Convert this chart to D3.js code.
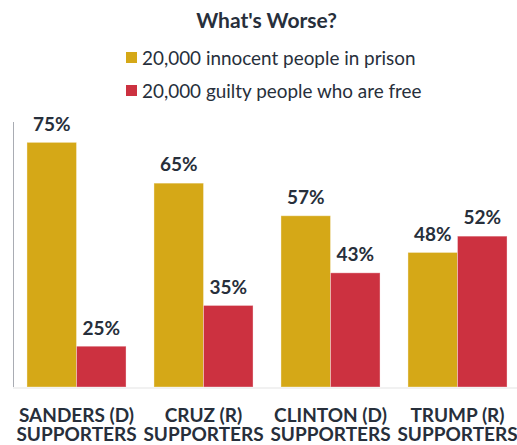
<!DOCTYPE html>
<html>
<head>
<meta charset="utf-8">
<script src="https://cdn.jsdelivr.net/npm/d3@7"></script>
<style>
  html, body { margin: 0; padding: 0; background: #fff; }
  svg { display: block; font-family: Lato, "Open Sans", sans-serif; }
</style>
</head>
<body>
<svg id="chart" width="517" height="445"></svg>
<script>
const title = "What's Worse?";
const categories = ["SANDERS (D)|SUPPORTERS", "CRUZ (R)|SUPPORTERS", "CLINTON (D)|SUPPORTERS", "TRUMP (R)|SUPPORTERS"];
const seriesNames = ["20,000 innocent people in prison", "20,000 guilty people who are free"];
const innocentInPrison = [75, 65, 57, 48];
const guiltyFree = [25, 35, 43, 52];
const colors = ["#D5A817", "#CC3140"];

const svg = d3.select("#chart");
const textColor = "#272f3b";

const x0 = d3.scaleBand().domain(categories).range([13, 521]).paddingInner(0.22).paddingOuter(0.11);
const x1 = d3.scaleBand().domain([0, 1]).range([0, x0.bandwidth()]);
const y = d3.scaleLinear().domain([15, 80]).range([387, 122]);

// title
svg.append("text").attr("x", 266.5).attr("y", 28.3).attr("text-anchor", "middle")
  .attr("font-weight", 700).attr("font-size", 21).attr("fill", textColor).text(title);

// legend
const legend = svg.append("g");
seriesNames.forEach((name, i) => {
  const g = legend.append("g").attr("transform", `translate(126, ${52 + i * 33})`);
  g.append("rect").attr("width", 11).attr("height", 11).attr("fill", colors[i]);
  g.append("text").attr("x", 16).attr("y", 13).attr("font-size", 18.9).attr("fill", textColor).text(name);
});

// baseline and axis
svg.append("line").attr("x1", 13).attr("x2", 517).attr("y1", y(15) + 1).attr("y2", y(15) + 1)
  .attr("stroke", "#ececec").attr("stroke-width", 1.5);
svg.append("line").attr("x1", 13.5).attr("x2", 13.5).attr("y1", y(80)).attr("y2", y(15))
  .attr("stroke", "#a9acb3").attr("stroke-width", 1);

const data = categories.map((c, i) => ({ cat: c, vals: [innocentInPrison[i], guiltyFree[i]] }));

const groups = svg.append("g").selectAll("g").data(data).join("g")
  .attr("transform", d => `translate(${x0(d.cat)},0)`);

groups.selectAll("rect").data(d => d.vals.map((v, i) => ({ v, i }))).join("rect")
  .attr("x", d => x1(d.i))
  .attr("y", d => y(d.v))
  .attr("width", x1.bandwidth())
  .attr("height", d => y(15) - y(d.v))
  .attr("fill", d => colors[d.i])
  .attr("stroke", "rgba(255,255,255,0.35)")
  .attr("stroke-width", 1);

groups.selectAll("text.val").data(d => d.vals.map((v, i) => ({ v, i }))).join("text")
  .attr("class", "val")
  .attr("x", d => x1(d.i) + x1.bandwidth() / 2)
  .attr("y", d => y(d.v) - 11.7)
  .attr("text-anchor", "middle")
  .attr("font-weight", 700).attr("font-size", 19).attr("fill", textColor)
  .text(d => d.v + "%");

// category labels
const xAxis = svg.append("g");
categories.forEach(c => {
  const t = xAxis.append("text").attr("x", x0(c) + x0.bandwidth() / 2).attr("text-anchor", "middle")
    .attr("font-weight", 700).attr("font-size", 19).attr("fill", textColor);
  c.split("|").forEach((line, j) => {
    t.append("tspan").attr("x", x0(c) + x0.bandwidth() / 2).attr("y", 421.7 + j * 19.3).text(line);
  });
});
</script>
</body>
</html>
